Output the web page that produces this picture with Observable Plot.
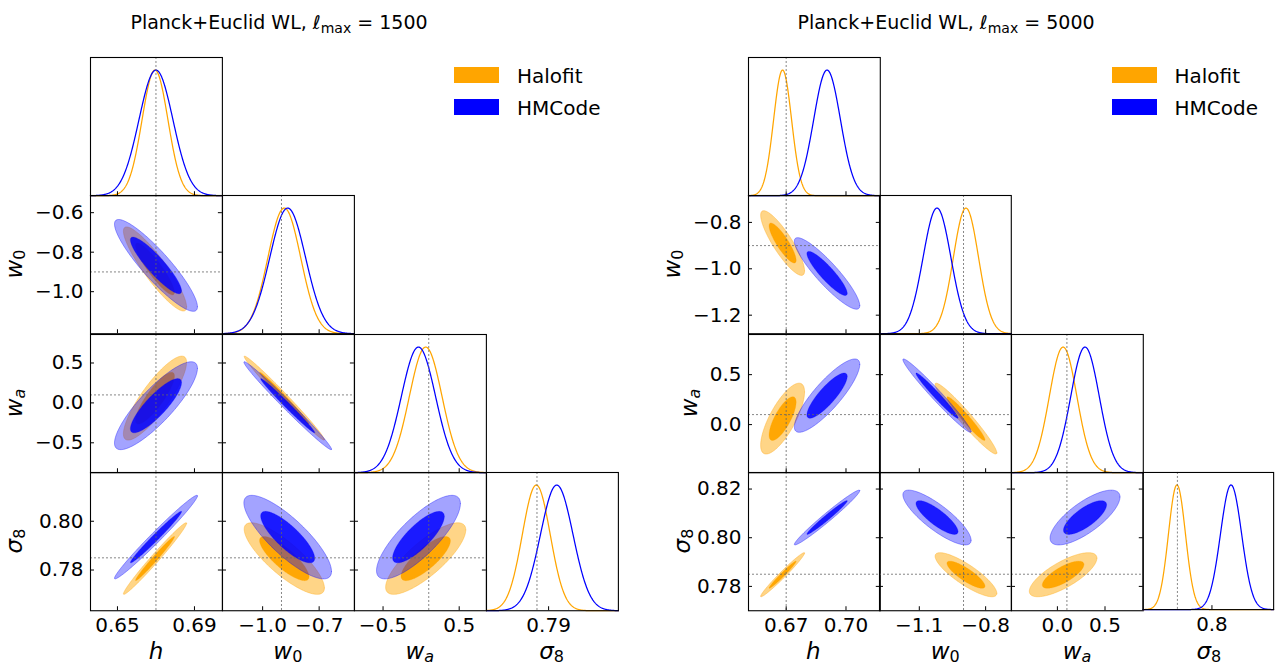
<!DOCTYPE html>
<html><head><meta charset="utf-8">
<script src="https://cdn.jsdelivr.net/npm/d3@7"></script>
<script src="https://cdn.jsdelivr.net/npm/@observablehq/plot@0.6"></script>
<style>
body{margin:0;background:#fff;}
#fig{position:relative;width:1276px;height:666px;overflow:hidden;font-family:"DejaVu Sans",sans-serif;color:#000;}
.cell{position:absolute;}
.txt{position:absolute;white-space:nowrap;line-height:1;font-family:"DejaVu Sans",sans-serif;}
.ttl{font-size:19px;transform:translateX(-50%);}
.ax{font-size:23px;}
.ax i{font-style:italic;}
.ax sub{font-size:16px;font-style:normal;vertical-align:-0.2em;line-height:0;}
.ax sub i{font-style:italic;}
.ttl sub{font-size:14px;vertical-align:-0.3em;line-height:0;}
.leg{font-size:20px;}
.patch{position:absolute;width:45px;height:16px;}
</style></head><body><div id="fig"></div>
<script>
// ---------------- data ----------------
const paramKeys = ["h", "w0", "wa", "s8"];
const fiducial = [0.67, -0.9, 0.1, 0.785];
const modelNames = ["Halofit", "HMCode"];
const modelColors = ["orange", "blue"];
const lmaxValues = [1500, 5000];
// correlation order: h-w0, h-wa, h-s8, w0-wa, w0-s8, wa-s8

// ell_max = 1500
const lo1500 = [0.636, -1.213, -0.875, 0.7633];
const hi1500 = [0.7045, -0.513, 0.857, 0.8200];
const halofitMean1500 = [0.6695, -0.885, 0.06, 0.7847];
const halofitSigma1500 = [0.0067, 0.087, 0.215, 0.0060];
const halofitCorr1500 = [-0.90, 0.85, 0.985, -0.99, -0.82, 0.80];
const hmcodeMean1500 = [0.6700, -0.867, -0.035, 0.7935];
const hmcodeSigma1500 = [0.0088, 0.095, 0.225, 0.0070];
const hmcodeCorr1500 = [-0.90, 0.85, 0.985, -0.99, -0.82, 0.80];
const xTicks1500 = [[0.65, 0.69], [-1.0, -0.7], [-0.5, 0.5], [0.79]];
const xTickLabels1500 = [["0.65", "0.69"], ["−1.0", "−0.7"], ["−0.5", "0.5"], ["0.79"]];
const yTicks1500 = [[], [-0.6, -0.8, -1.0], [0.5, 0.0, -0.5], [0.80, 0.78]];
const yTickLabels1500 = [[], ["−0.6", "−0.8", "−1.0"], ["0.5", "0.0", "−0.5"], ["0.80", "0.78"]];

// ell_max = 5000
const lo5000 = [0.6511, -1.280, -0.482, 0.7700];
const hi5000 = [0.7172, -0.684, 0.902, 0.8268];
const halofitMean5000 = [0.6682, -0.889, 0.06, 0.7848];
const halofitSigma5000 = [0.0045, 0.057, 0.145, 0.0037];
const halofitCorr5000 = [-0.86, 0.75, 0.98, -0.965, -0.84, 0.75];
const hmcodeMean5000 = [0.6905, -1.020, 0.29, 0.8083];
const hmcodeSigma5000 = [0.0067, 0.063, 0.150, 0.0046];
const hmcodeCorr5000 = [-0.90, 0.85, 0.98, -0.98, -0.83, 0.75];
const xTicks5000 = [[0.67, 0.70], [-1.1, -0.8], [0.0, 0.5], [0.8]];
const xTickLabels5000 = [["0.67", "0.70"], ["−1.1", "−0.8"], ["0.0", "0.5"], ["0.8"]];
const yTicks5000 = [[], [-0.8, -1.0, -1.2], [0.5, 0.0], [0.82, 0.80, 0.78]];
const yTickLabels5000 = [[], ["−0.8", "−1.0", "−1.2"], ["0.5", "0.0"], ["0.82", "0.80", "0.78"]];

const axisLabelsHTML = ["<i>h</i>", "<i>w</i><sub>0</sub>", "<i>w</i><sub><i>a</i></sub>", "<i>σ</i><sub>8</sub>"];

// ---------------- layout ----------------
const panels = [
  {lmax: lmaxValues[0], lo: lo1500, hi: hi1500,
   mean: [halofitMean1500, hmcodeMean1500], sigma: [halofitSigma1500, hmcodeSigma1500], corr: [halofitCorr1500, hmcodeCorr1500],
   xt: xTicks1500, xl: xTickLabels1500, yt: yTicks1500, yl: yTickLabels1500,
   x0: 90, cw: 131.9, titleX: 279, yLabX: [0, 14, 14, 14]},
  {lmax: lmaxValues[1], lo: lo5000, hi: hi5000,
   mean: [halofitMean5000, hmcodeMean5000], sigma: [halofitSigma5000, hmcodeSigma5000], corr: [halofitCorr5000, hmcodeCorr5000],
   xt: xTicks5000, xl: xTickLabels5000, yt: yTicks5000, yl: yTickLabels5000,
   x0: 747.5, cw: 131.8, titleX: 946, yLabX: [0, 672, 689, 682]}
];
const Y0 = 57, CH = 138.25;
const ML = 75, MR = 3, MT = 3, MB = 35, TICK = 4;
const R68 = Math.sqrt(-2 * Math.log(1 - 0.68)), R95 = Math.sqrt(-2 * Math.log(1 - 0.95));
const fig = document.getElementById("fig");

const corrIdx = {"0,1": 0, "0,2": 1, "0,3": 2, "1,2": 3, "1,3": 4, "2,3": 5};
function corrOf(arr, a, b) { const p = Math.min(a, b), q = Math.max(a, b); return arr[corrIdx[p + "," + q]]; }

function ellipsePts(mx, my, sx, sy, rho, r) {
  const s = Math.sqrt(1 - rho * rho);
  return d3.range(0, 241).map(k => {
    const t = 2 * Math.PI * k / 240;
    return {x: mx + r * sx * Math.cos(t), y: my + r * sy * (rho * Math.cos(t) + s * Math.sin(t))};
  });
}

function makeCell(P, i, j) {
  const diag = i === j;
  const W = P.cw, H = CH;
  const xDom = [P.lo[i], P.hi[i]];
  const yDom = diag ? [0, 1.1] : [P.lo[j], P.hi[j]];
  const marks = [];
  if (diag) {
    const xs = d3.range(0, 301).map(n => xDom[0] + (xDom[1] - xDom[0]) * n / 300);
    [0, 1].forEach(k => {
      const mu = P.mean[k][i], s = P.sigma[k][i];
      marks.push(Plot.line(xs, {x: d => d, y: d => Math.exp(-0.5 * ((d - mu) / s) ** 2),
        stroke: modelColors[k], strokeWidth: 1.25}));
    });
    marks.push(Plot.ruleX([fiducial[i]], {stroke: "#666", strokeWidth: 0.8, strokeDasharray: "2,2"}));
  } else {
    [0, 1].forEach(k => {
      const mx = P.mean[k][i], my = P.mean[k][j], sx = P.sigma[k][i], sy = P.sigma[k][j];
      const rho = corrOf(P.corr[k], i, j);
      const outer = ellipsePts(mx, my, sx, sy, rho, R95);
      const inner = ellipsePts(mx, my, sx, sy, rho, R68);
      const c = modelColors[k];
      marks.push(Plot.line(outer, {x: "x", y: "y", fill: c, fillOpacity: k === 0 ? 0.47 : 0.36,
        stroke: c, strokeOpacity: 0.45, strokeWidth: 0.8, clip: true}));
      marks.push(Plot.line(inner, {x: "x", y: "y", fill: c, fillOpacity: k === 0 ? 0.97 : 0.84,
        stroke: c, strokeOpacity: 0.4, strokeWidth: 0.6, clip: true}));
    });
    marks.push(Plot.ruleX([fiducial[i]], {stroke: "#666", strokeWidth: 0.8, strokeDasharray: "2,2"}));
    marks.push(Plot.ruleY([fiducial[j]], {stroke: "#666", strokeWidth: 0.8, strokeDasharray: "2,2"}));
    // inward y ticks (left and right)
    marks.push(Plot.ruleY(P.yt[j], {y: d => d, insetRight: W - TICK, stroke: "black", strokeWidth: 1}));
    marks.push(Plot.ruleY(P.yt[j], {y: d => d, insetLeft: W - TICK, stroke: "black", strokeWidth: 1}));
  }
  // inward bottom x ticks
  marks.push(Plot.ruleX(P.xt[i], {x: d => d, insetTop: H - TICK, stroke: "black", strokeWidth: 1}));
  marks.push(Plot.frame({stroke: "black", strokeWidth: 1.1}));
  const showX = j === 3;
  const showY = i === 0 && !diag;
  if (showX) {
    const xt = P.xt[i], xl = P.xl[i];
    marks.push(Plot.axisX({ticks: xt, tickFormat: d => xl[xt.indexOf(d)], tickSize: 0, tickPadding: 7, label: null, anchor: "bottom"}));
  }
  if (showY) {
    const yt = P.yt[j], yl = P.yl[j];
    marks.push(Plot.axisY({ticks: yt, tickFormat: d => yl[yt.indexOf(d)], tickSize: 0, tickPadding: 7, label: null, anchor: "left"}));
  }
  const svg = Plot.plot({
    width: ML + W + MR, height: MT + H + MB,
    marginLeft: ML, marginRight: MR, marginTop: MT, marginBottom: MB,
    x: showX ? {domain: xDom} : {domain: xDom, axis: null},
    y: showY ? {domain: yDom} : {domain: yDom, axis: null},
    style: {background: "none", overflow: "visible", fontFamily: "DejaVu Sans, sans-serif", fontSize: "20px", color: "black"},
    marks
  });
  const wrap = document.createElement("div");
  wrap.className = "cell";
  wrap.style.left = (P.x0 + i * P.cw - ML) + "px";
  wrap.style.top = (Y0 + j * CH - MT) + "px";
  wrap.appendChild(svg);
  fig.appendChild(wrap);
}

function addText(cls, html, left, top, extra) {
  const d = document.createElement("div");
  d.className = "txt " + cls;
  d.innerHTML = html;
  d.style.left = left + "px";
  d.style.top = top + "px";
  if (extra) Object.assign(d.style, extra);
  fig.appendChild(d);
  return d;
}

panels.forEach(P => {
  for (let j = 0; j < 4; j++) for (let i = 0; i <= j; i++) makeCell(P, i, j);
  // title
  addText("ttl", `Planck+Euclid WL, <i>ℓ</i><sub>max</sub> = ${P.lmax}`, P.titleX, 13);
  // x labels
  for (let i = 0; i < 4; i++) {
    addText("ax", axisLabelsHTML[i], P.x0 + (i + 0.5) * P.cw, 639.5, {transform: "translateX(-50%)"});
  }
  // y labels
  for (let j = 1; j < 4; j++) {
    addText("ax", axisLabelsHTML[j], P.yLabX[j], Y0 + (j + 0.5) * CH, {transform: "translate(-50%,-50%) rotate(-90deg)"});
  }
  // legend
  modelNames.forEach((m, k) => {
    const p = document.createElement("div");
    p.className = "patch";
    p.style.background = modelColors[k];
    p.style.left = (P.x0 + 364) + "px";
    p.style.top = (67 + 32 * k) + "px";
    fig.appendChild(p);
    addText("leg", m, P.x0 + 427, 66 + 32 * k);
  });
});
</script></body></html>
